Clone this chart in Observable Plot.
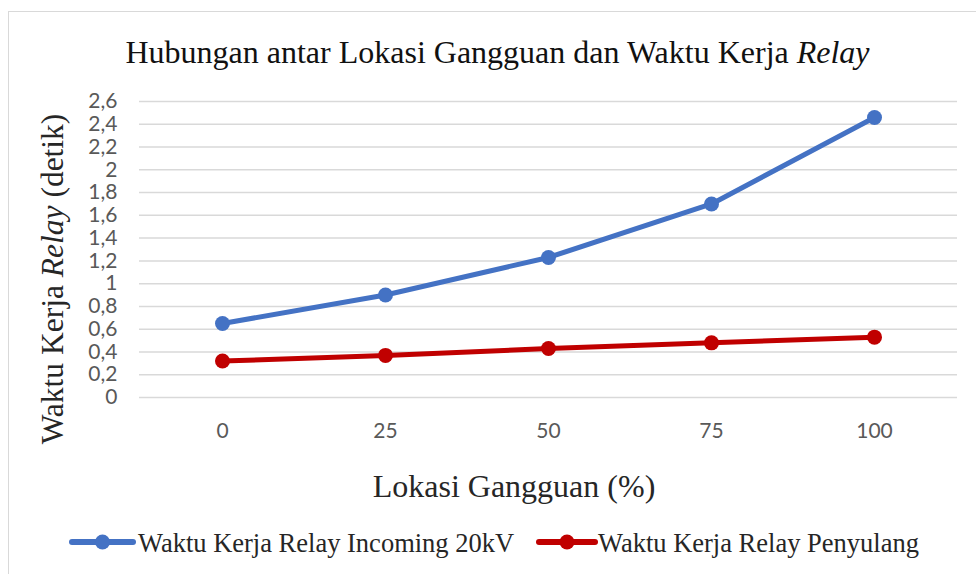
<!DOCTYPE html>
<html><head><meta charset="utf-8">
<script src="https://cdn.jsdelivr.net/npm/d3@7"></script>
<script src="https://cdn.jsdelivr.net/npm/@observablehq/plot@0.6"></script>
<style>body{margin:0;background:#fff}</style>
</head><body><div id="chart"></div>
<script>
// ---- data ----
const locations = ["0", "25", "50", "75", "100"];
const incoming = [0.65, 0.90, 1.23, 1.70, 2.46];
const penyulang = [0.32, 0.37, 0.43, 0.48, 0.53];
const seriesNames = ["Waktu Kerja Relay Incoming 20kV", "Waktu Kerja Relay Penyulang"];
const seriesColors = ["#4472C4", "#C00000"];
const yTicks = [0, 0.2, 0.4, 0.6, 0.8, 1, 1.2, 1.4, 1.6, 1.8, 2, 2.2, 2.4, 2.6];
const titleMain = "Hubungan antar Lokasi Gangguan dan Waktu Kerja ";
const titleItalic = "Relay";
const xLabel = "Lokasi Gangguan (%)";
const yLabelParts = ["Waktu Kerja ", "Relay", " (detik)"];

const rows = locations.flatMap((loc, i) => [
  {loc, value: incoming[i], series: seriesNames[0]},
  {loc, value: penyulang[i], series: seriesNames[1]}
]);
const fmt = d => String(Math.round(d * 10) / 10).replace(".", ",");

const plot = Plot.plot({
  width: 976, height: 574,
  marginTop: 101, marginBottom: 177, marginLeft: 139, marginRight: 19,
  style: {fontFamily: "Lato", color: "#595959", background: "#fff", overflow: "visible"},
  x: {type: "point", domain: locations, padding: 0.5},
  y: {domain: [0, 2.6]},
  color: {domain: seriesNames, range: seriesColors},
  marks: [
    Plot.gridY(yTicks, {stroke: "#d9d9d9", strokeOpacity: 1, strokeWidth: 1.5}),
    Plot.axisY(yTicks, {tickSize: 0, tickPadding: 22, fontSize: 21, tickFormat: fmt, label: null}),
    Plot.axisX({tickSize: 0, tickPadding: 26, fontSize: 21, label: null}),
    Plot.line(rows, {x: "loc", y: "value", stroke: "series", strokeWidth: 5}),
    Plot.dot(rows, {x: "loc", y: "value", fill: "series", r: 7.5})
  ]
});

const svg = d3.select(plot);
svg.insert("rect", ":first-child")
  .attr("x", 8.5).attr("y", 11.5).attr("width", 1100).attr("height", 700)
  .attr("fill", "none").attr("stroke", "#d9d9d9").attr("stroke-width", 1);

const serif = "'Liberation Serif', 'Times New Roman', serif";
const t = svg.append("text").attr("x", 497.5).attr("y", 63)
  .attr("text-anchor", "middle").attr("font-family", serif).attr("font-size", 32).attr("fill", "#111");
t.append("tspan").text(titleMain);
t.append("tspan").attr("font-style", "italic").text(titleItalic);

svg.append("text").attr("x", 514).attr("y", 497)
  .attr("text-anchor", "middle").attr("font-family", serif).attr("font-size", 32).attr("fill", "#262626")
  .text(xLabel);

const yl = svg.append("text").attr("transform", "translate(63,279) rotate(-90)")
  .attr("text-anchor", "middle").attr("font-family", serif).attr("font-size", 31.5).attr("fill", "#262626");
yLabelParts.forEach((p, i) => yl.append("tspan").attr("font-style", i === 1 ? "italic" : null).text(p));

// legend
const legendItems = [
  {x0: 72, x1: 133, tx: 138},
  {x0: 539, x1: 595, tx: 598}
];
legendItems.forEach((it, i) => {
  const g = svg.append("g");
  g.append("line").attr("x1", it.x0).attr("x2", it.x1).attr("y1", 542).attr("y2", 542)
    .attr("stroke", seriesColors[i]).attr("stroke-width", 6).attr("stroke-linecap", "round");
  g.append("circle").attr("cx", (it.x0 + it.x1) / 2).attr("cy", 542).attr("r", 7.5).attr("fill", seriesColors[i]);
  g.append("text").attr("x", it.tx).attr("y", 552).attr("text-anchor", "start")
    .attr("font-family", serif).attr("font-size", 26.5)
    .attr("fill", "#262626").text(seriesNames[i]);
});

document.getElementById("chart").appendChild(plot);
</script>
</body></html>
